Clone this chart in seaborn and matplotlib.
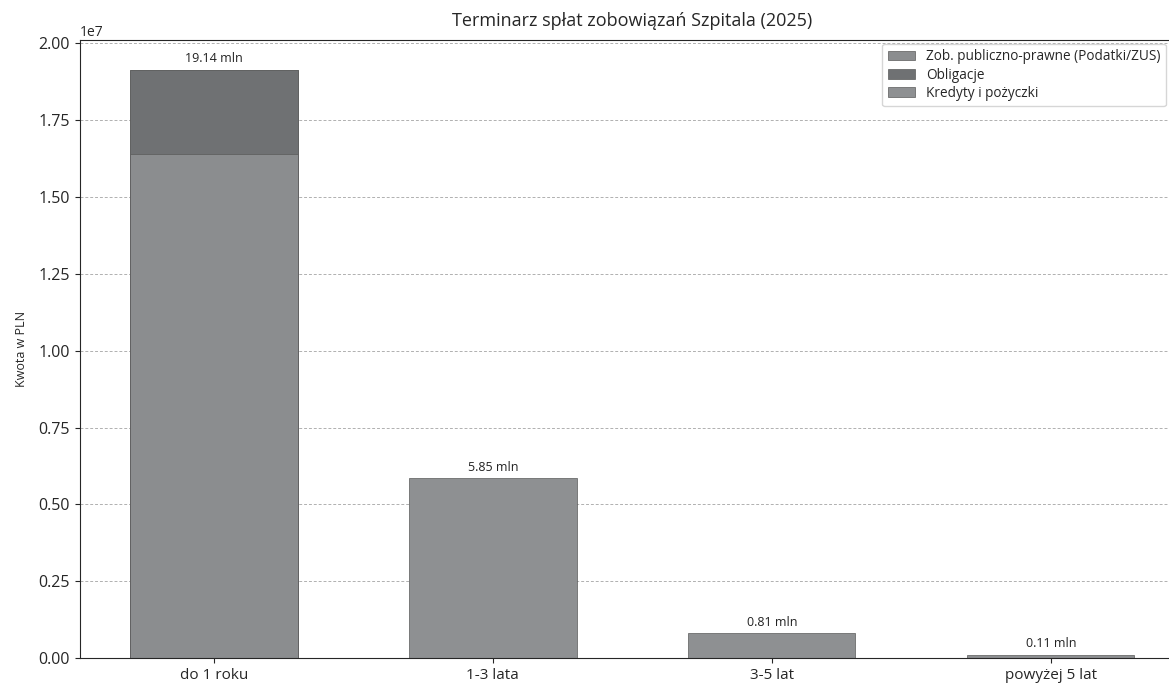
import pandas as pd
import matplotlib
matplotlib.use("Agg")
import matplotlib.pyplot as plt
from matplotlib.patches import Patch
import seaborn as sns

# Data (PLN)
categories = ["do 1 roku", "1-3 lata", "3-5 lat", "powyżej 5 lat"]
zob_publiczno = [16_400_000, 0, 0, 0]
obligacje = [2_740_000, 0, 0, 0]
kredyty = [0, 5_850_000, 810_000, 110_000]
series_names = ["Zob. publiczno-prawne (Podatki/ZUS)", "Obligacje", "Kredyty i pożyczki"]
series_colors = ["#8b8d8f", "#6f7173", "#8e9092"]

sns.set_style("ticks")
plt.rcParams["font.family"] = ["Open Sans", "DejaVu Sans"]

df = pd.DataFrame({
    "okres": categories,
    "zob": zob_publiczno,
    "obl": obligacje,
    "kred": kredyty,
})
df["c1"] = df["zob"]
df["c2"] = df["c1"] + df["obl"]
df["c3"] = df["c2"] + df["kred"]

fig = plt.figure(figsize=(11.69, 6.84), dpi=100)
ax = fig.add_axes([0.0684, 0.038, 0.945, 0.903])

# stacked bars: draw cumulative totals from top layer down
for col, color in zip(["c3", "c2", "c1"], series_colors[::-1]):
    sns.barplot(data=df, x="okres", y=col, color=color, width=0.6,
                edgecolor="#5a5a5a", linewidth=0.5, saturation=1, ax=ax)

totals = df["c3"].tolist()
for i, t in enumerate(totals):
    ax.text(i, t + 150_000, f"{t / 1e6:.2f} mln", ha="center", va="bottom",
            fontsize=9, color="#222")

ax.set_xlim(-0.48, 3.48)
ax.set_ylim(0, max(totals) * 1.05)
for s in ["top", "right"]:
    ax.spines[s].set_visible(True)
ax.set_axisbelow(True)
ax.yaxis.grid(True, linestyle=(0, (3, 2)), color="#b0b0b0", linewidth=0.7)
ax.set_title("Terminarz spłat zobowiązań Szpitala (2025)", fontsize=13, pad=10)
ax.set_ylabel("Kwota w PLN", fontsize=9, labelpad=8)
ax.set_xlabel("")
ax.tick_params(axis="x", labelsize=11)
ax.tick_params(axis="y", labelsize=11.5)

handles = [Patch(facecolor=c, edgecolor="#5a5a5a", linewidth=0.5) for c in series_colors]
ax.legend(handles, series_names, loc="upper left", fontsize=9.8, frameon=True,
          labelspacing=0.25, bbox_to_anchor=(0.749, 0.946),
          bbox_transform=fig.transFigure)

fig.savefig("out.png", dpi=100)
